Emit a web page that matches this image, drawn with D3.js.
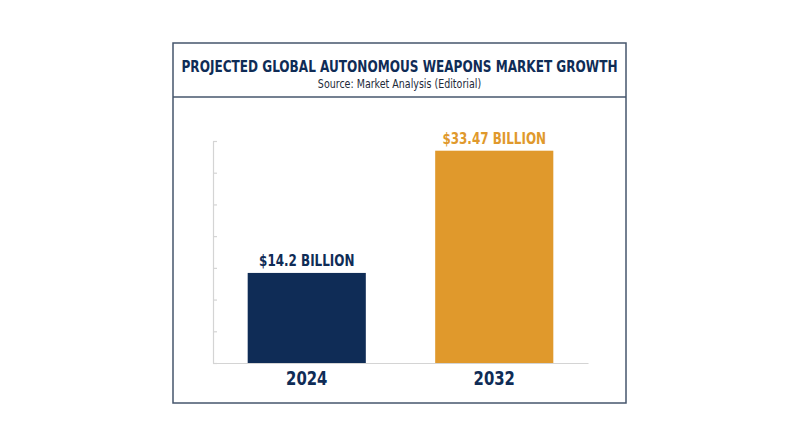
<!DOCTYPE html>
<html>
<head>
<meta charset="utf-8">
<script src="https://cdn.jsdelivr.net/npm/d3@7"></script>
<style>
  body { margin: 0; background: #fff; }
  svg { display: block; }
</style>
</head>
<body>
<div id="chart"></div>
<script>
const years = ['2024', '2032']
const marketValues = [14.2, 33.47]
const valueLabels = ['$14.2 BILLION', '$33.47 BILLION']
const barColors = ['#0f2c56', '#e0992c']
const yTicks = [0, 5, 10, 15, 20, 25, 30, 35]

const title = 'PROJECTED GLOBAL AUTONOMOUS WEAPONS MARKET GROWTH'
const subtitle = 'Source: Market Analysis (Editorial)'

const svgWidth = 800
const svgHeight = 447
const frame = {x: 173, y: 43, w: 453, h: 360, header: 54}
const plot = {left: 213, right: 588, top: 141, bottom: 363}
const navy = '#0f2c56'
const condensed = '"DejaVu Sans Condensed", "Liberation Sans Narrow", sans-serif'

// the original face is narrower than anything installed, so squeeze glyphs a bit
function squeeze(sel, k) {
  sel.each(function() {
    let w = this.getComputedTextLength()
    d3.select(this)
      .attr('textLength', w * k)
      .attr('lengthAdjust', 'spacingAndGlyphs')
  })
}

let svg = d3.select('#chart')
  .append('svg')
  .attr('width', svgWidth)
  .attr('height', svgHeight)

// framed card with a header strip
svg.append('rect')
  .attr('x', frame.x)
  .attr('y', frame.y)
  .attr('width', frame.w)
  .attr('height', frame.h)
  .attr('fill', '#fff')
  .attr('stroke', '#46566c')
  .attr('stroke-width', 1.5)

svg.append('line')
  .attr('x1', frame.x)
  .attr('x2', frame.x + frame.w)
  .attr('y1', frame.y + frame.header)
  .attr('y2', frame.y + frame.header)
  .attr('stroke', '#46566c')
  .attr('stroke-width', 1.5)

svg.append('text')
  .attr('x', frame.x + frame.w / 2)
  .attr('y', 72)
  .attr('text-anchor', 'middle')
  .attr('font-family', condensed)
  .attr('font-weight', 'bold')
  .attr('font-size', 16)
  .attr('fill', navy)
  .attr('textLength', 436)
  .attr('lengthAdjust', 'spacingAndGlyphs')
  .text(title)

svg.append('text')
  .attr('x', frame.x + frame.w / 2)
  .attr('y', 88)
  .attr('text-anchor', 'middle')
  .attr('font-family', condensed)
  .attr('font-size', 12)
  .attr('fill', '#1e2a3a')
  .text(subtitle)
  .call(squeeze, 0.88)

let xScale = d3.scaleBand()
  .domain(years)
  .range([plot.left, plot.right])
  .paddingInner(0.37)
  .paddingOuter(0.185)

let yScale = d3.scaleLinear()
  .domain([0, 35])
  .range([plot.bottom, plot.top])

// y axis: light line with short inward ticks, no labels
let yAxis = svg.append('g')
  .attr('class', 'axis axis--y')
  .attr('transform', 'translate(' + plot.left + ',0)')
  .call(d3.axisRight(yScale).tickValues(yTicks).tickSize(4).tickSizeOuter(0).tickFormat(''))

yAxis.select('.domain').attr('stroke', '#d4d4d4').attr('stroke-width', 1.2)
yAxis.selectAll('.tick line').attr('stroke', '#d4d4d4').attr('stroke-width', 1.2)

let xAxis = svg.append('g')
  .attr('class', 'axis axis--x')
  .attr('transform', 'translate(0,' + plot.bottom + ')')
  .call(d3.axisBottom(xScale).tickSize(0).tickSizeOuter(0).tickPadding(9))

xAxis.select('.domain').attr('stroke', '#d4d4d4').attr('stroke-width', 1.2)
xAxis.selectAll('.tick text')
  .attr('font-family', condensed)
  .attr('font-weight', 'bold')
  .attr('font-size', 19)
  .attr('fill', navy)
  .call(squeeze, 0.87)

let data = years.map((y, i) => ({year: y, value: marketValues[i], label: valueLabels[i], color: barColors[i]}))

svg.selectAll('.bar')
  .data(data)
  .enter()
  .append('rect')
  .attr('class', 'bar')
  .attr('x', d => xScale(d.year))
  .attr('y', d => yScale(d.value))
  .attr('width', xScale.bandwidth())
  .attr('height', d => plot.bottom - yScale(d.value))
  .attr('fill', d => d.color)

svg.selectAll('.value-label')
  .data(data)
  .enter()
  .append('text')
  .attr('class', 'value-label')
  .attr('x', d => xScale(d.year) + xScale.bandwidth() / 2)
  .attr('y', d => yScale(d.value) - 7)
  .attr('text-anchor', 'middle')
  .attr('font-family', condensed)
  .attr('font-weight', 'bold')
  .attr('font-size', 16)
  .attr('fill', d => d.color)
  .text(d => d.label)
  .call(squeeze, 0.83)
</script>
</body>
</html>
